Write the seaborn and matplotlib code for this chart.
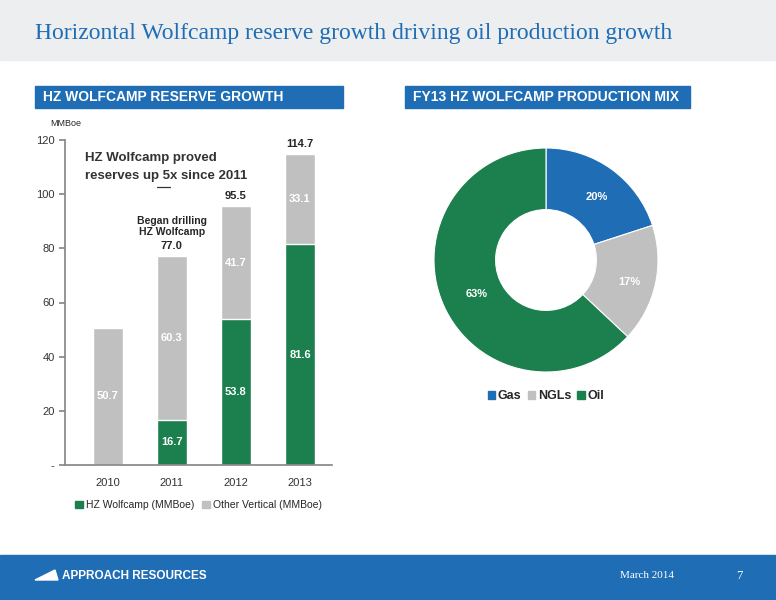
import matplotlib
matplotlib.use("Agg")
import matplotlib.pyplot as plt
import seaborn as sns
import pandas as pd
from matplotlib.patches import Rectangle, Patch, Polygon

years = ["2010", "2011", "2012", "2013"]
hz_wolfcamp = [0, 16.7, 53.8, 81.6]
other_vertical = [50.7, 60.3, 41.7, 33.1]
totals = [50.7, 77.0, 95.5, 114.7]
mix_labels = ["Gas", "NGLs", "Oil"]
mix_values = [20, 17, 63]

GREEN = "#1b7f4e"
GRAY = "#c0c0c0"
BLUE = "#1f6db5"

sns.set_theme(style="white")
plt.rcParams["font.family"] = ["Liberation Sans", "DejaVu Sans"]

W, H = 776, 600
fig = plt.figure(figsize=(W / 100, H / 100), dpi=100)

def box(x, y, w, h):
    return [x / W, 1 - (y + h) / H, w / W, h / H]

# background bands
fig.patches.append(Rectangle((0, 1 - 60 / H), 1, 60 / H, transform=fig.transFigure, color="#eceef0", zorder=0))
fig.patches.append(Rectangle((0, 0), 1, 45 / H, transform=fig.transFigure, color=BLUE, zorder=0))
fig.text(35 / W, 1 - 33 / H, "Horizontal Wolfcamp reserve growth driving oil production growth",
         family="Liberation Serif", color=BLUE, fontsize=17, va="center")
fig.text(62 / W, 1 - 576 / H, "APPROACH RESOURCES", color="white", fontsize=8.5, fontweight="bold", va="center")
fig.patches.append(Polygon([(35 / W, 1 - 580 / H), (55 / W, 1 - 570 / H), (58 / W, 1 - 580 / H)],
                           transform=fig.transFigure, color="white"))
fig.text(620 / W, 1 - 576 / H, "March 2014", family="Liberation Serif", color="white", fontsize=8, va="center")
fig.text(736 / W, 1 - 576 / H, "7", family="Liberation Serif", color="white", fontsize=9, va="center")

# section headers
for x0, w0, txt in [(35, 308, "HZ WOLFCAMP RESERVE GROWTH"), (405, 285, "FY13 HZ WOLFCAMP PRODUCTION MIX")]:
    fig.patches.append(Rectangle((x0 / W, 1 - 108 / H), w0 / W, 22 / H, transform=fig.transFigure, color=BLUE))
    fig.text((x0 + 8) / W, 1 - 97 / H, txt, color="white", fontsize=10, fontweight="bold", va="center")

# bar chart
ax = fig.add_axes(box(65, 140, 267, 325))
df = pd.DataFrame({"year": years, "total": totals, "hz": hz_wolfcamp})
sns.barplot(data=df, x="year", y="total", color=GRAY, width=0.47, saturation=1, ax=ax)
sns.barplot(data=df, x="year", y="hz", color=GREEN, width=0.47, saturation=1, ax=ax)
ax.set_xlim(-0.67, 3.5)
ax.set_ylim(0, 120)
ax.set_yticks([0, 20, 40, 60, 80, 100, 120])
ax.set_yticklabels(["-", "20", "40", "60", "80", "100", "120"])
ax.set_xlabel("")
ax.set_ylabel("")
ax.tick_params(labelsize=8, colors="#333333")
ax.tick_params(axis="y", left=True, length=4, color="#888888")
for s in ["top", "right"]:
    ax.spines[s].set_visible(False)
for s in ["left", "bottom"]:
    ax.spines[s].set_color("#888888")
for i in range(4):
    if hz_wolfcamp[i] > 0:
        ax.text(i, hz_wolfcamp[i] / 2, f"{hz_wolfcamp[i]:.1f}", color="white", ha="center", va="center",
                fontsize=8, fontweight="bold")
    ax.text(i, hz_wolfcamp[i] + other_vertical[i] / 2, f"{other_vertical[i]:.1f}", color="white",
            ha="center", va="center", fontsize=8, fontweight="bold")
    if i > 0:
        ax.text(i, totals[i] + 2, f"{totals[i]:.1f}", ha="center", va="bottom", fontsize=8, fontweight="bold")
ax.text(-0.35, 110, "HZ Wolfcamp proved\nreserves up 5x since 2011", fontsize=9.5,
        fontweight="bold", color="#333333", va="center", linespacing=1.7)
# underline under "5x"
ax.plot([0.77, 0.97], [102.6, 102.6], color="#333333", lw=0.9, clip_on=False)
ax.text(1, 88, "Began drilling\nHZ Wolfcamp", fontsize=7.5, fontweight="bold", ha="center", va="center")
fig.text(50 / W, 1 - 126 / H, "MMBoe", fontsize=6.5)
ax.legend(handles=[Patch(color=GREEN, label="HZ Wolfcamp (MMBoe)"), Patch(color=GRAY, label="Other Vertical (MMBoe)")],
          loc="upper center", bbox_to_anchor=(0.5, -0.08), ncol=2, frameon=False, fontsize=7.5,
          handlelength=0.7, handleheight=0.7, columnspacing=0.8, handletextpad=0.3)

# donut
ax2 = fig.add_axes(box(434, 148, 224, 224))
wedges, _ = ax2.pie(mix_values, colors=[BLUE, GRAY, GREEN], startangle=90, counterclock=False,
                    wedgeprops=dict(width=0.55, edgecolor="white", linewidth=0.8))
ax2.set_xlim(-1.0, 1.0)
ax2.set_ylim(-1.0, 1.0)
for lab, pos in [("20%", (0.45, 0.56)), ("17%", (0.74, -0.2)), ("63%", (-0.62, -0.3))]:
    ax2.text(*pos, lab, ha="center", va="center", fontsize=8, fontweight="bold", color="white")
ax2.set_aspect("equal")
ax2.legend(handles=[Patch(color=c, label=l) for c, l in zip([BLUE, GRAY, GREEN], mix_labels)],
           loc="upper center", bbox_to_anchor=(0.5, -0.03), ncol=3, frameon=False,
           prop={"weight": "bold", "size": 9}, handlelength=0.6, handleheight=0.6, columnspacing=0.5, handletextpad=0.2)

fig.savefig("out.png", dpi=100)
